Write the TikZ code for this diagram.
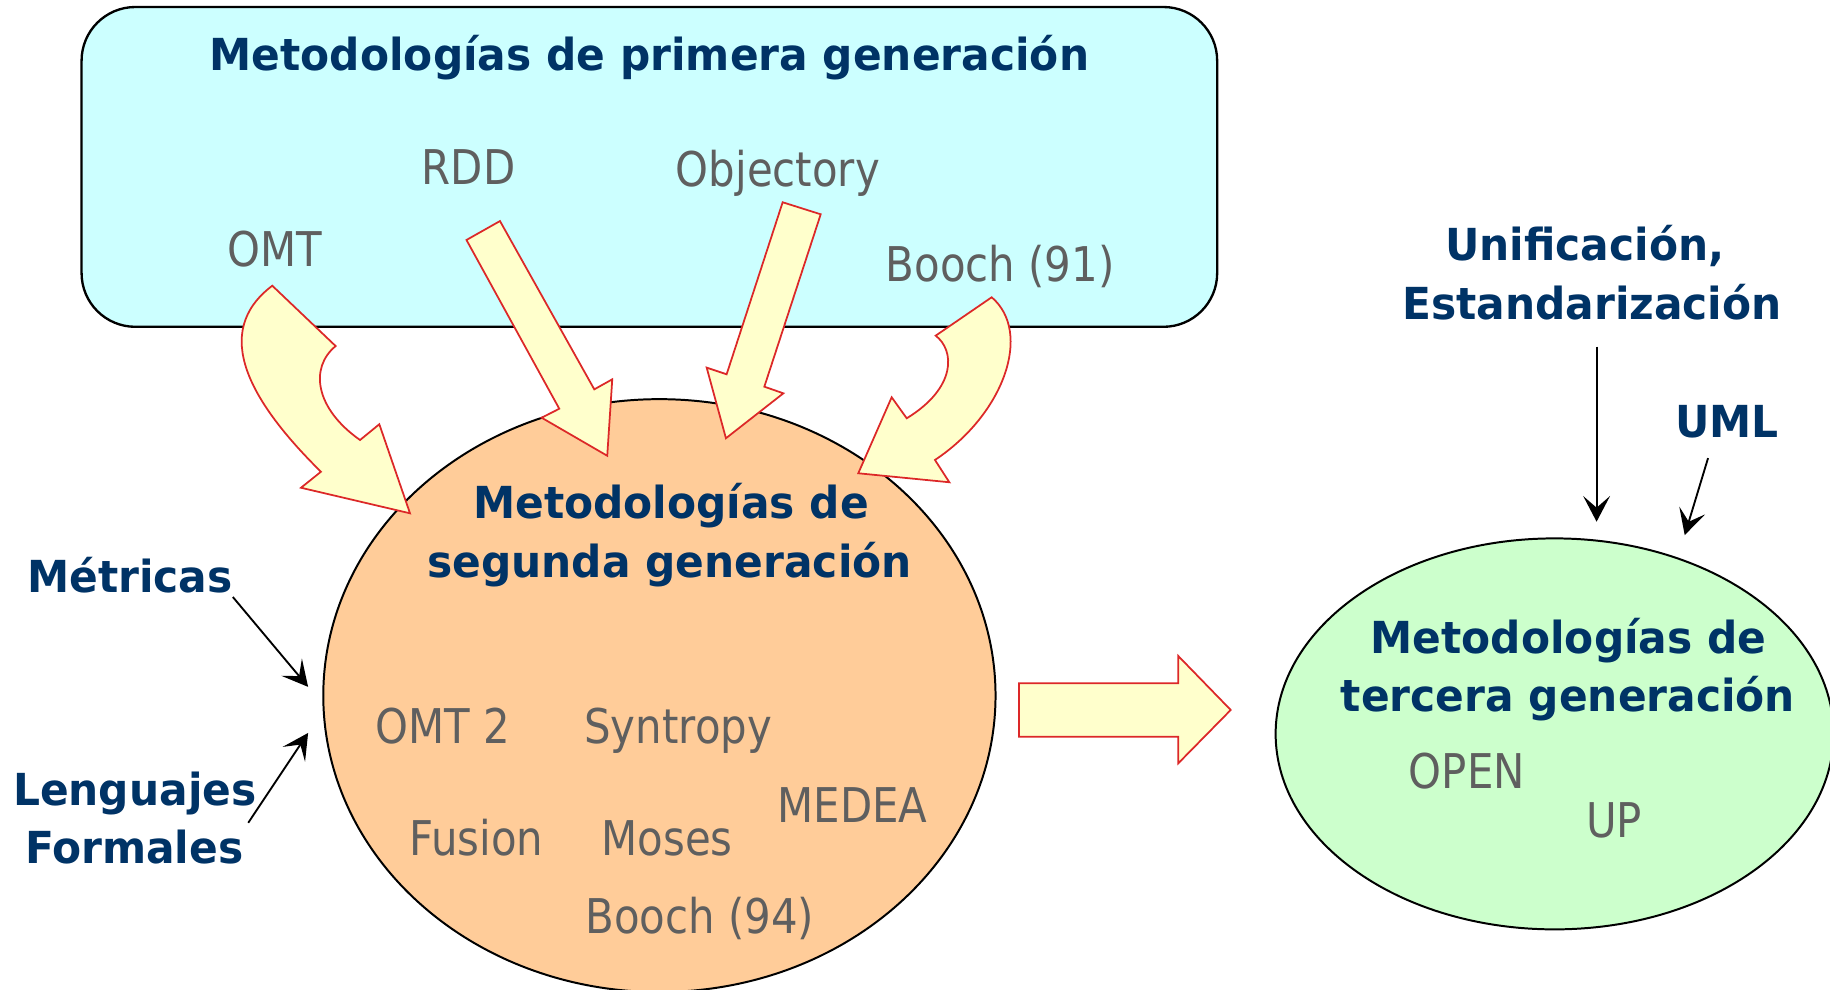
\documentclass[tikz,border=0pt]{standalone}
\usepackage{fontspec}
\usetikzlibrary{shapes.geometric,arrows.meta}
\newfontfamily\rgf[FakeStretch=0.875]{DejaVu Sans}
\newfontfamily\bdf[FakeStretch=0.96]{DejaVu Sans}
\definecolor{navy}{RGB}{0,51,102}
\definecolor{txtgray}{RGB}{95,95,95}
\definecolor{boxcyan}{RGB}{204,255,255}
\definecolor{peach}{RGB}{255,204,153}
\definecolor{mint}{RGB}{204,255,204}
\definecolor{pale}{RGB}{255,255,204}
\definecolor{arrred}{RGB}{220,40,40}
\begin{document}
\begin{tikzpicture}[x=0.5pt,y=-0.5pt,
 boldtxt/.style={inner sep=0pt, anchor=base, text=navy, font=\bdf\bfseries\fontsize{18.9pt}{22pt}\selectfont},
 graytxt/.style={inner sep=0pt, anchor=base west, text=txtgray, font=\rgf\fontsize{20.5pt}{24pt}\selectfont},
 blockarrow/.style={fill=pale, draw=arrred, line width=0.75pt, line join=miter},
 thinarrow/.style={draw=black, line width=0.8pt, -{Stealth[length=11pt,width=11.5pt,inset=5pt]}},
 blob/.style={ellipse, draw=black, line width=0.85pt, inner sep=0pt},
]
\useasboundingbox (0,0) rectangle (1568,848);
\fill[white] (0,0) rectangle (1568,848);
\clip (0,0) rectangle (1568,848);

% containers
\node[draw=black, line width=1pt, fill=boxcyan, rounded corners=23pt,
      minimum width=486.5pt, minimum height=137pt, inner sep=0pt] (box1) at (556.4,143) {};
\node[blob, fill=peach, minimum width=288pt, minimum height=254pt] (seg) at (565,596) {};
\node[blob, fill=mint, minimum width=239pt, minimum height=167.5pt] (ter) at (1332,628.8) {};

% first generation texts
\node[boldtxt] (t1) at (556.5,60) {Metodologías de primera generación};
\node[graytxt] (omt) at (194.5,228) {OMT};
\node[graytxt] (rdd) at (360.9,158.5) {RDD};
\node[graytxt] (obj) at (578.8,159.4) {Objectory};
\node[graytxt] (b91) at (758.6,241) {Booch (91)};

% block arrows
\draw[blockarrow] (233.3,244.8) -- (287.6,296.5) .. controls (265,315) and (270,350) .. (308.5,377)
  -- (325,363.5) -- (351.3,439.8) -- (257.9,417.9) -- (275,404.2)
  .. controls (215,345) and (180,285) .. (233.3,244.8) -- cycle;
\draw[blockarrow] (399.7,205.6) -- (428.4,189.4) -- (509.2,333.6) -- (524.6,325) -- (520.3,390.5)
  -- (464.1,357.9) -- (479.2,350.2) -- cycle;
\draw[blockarrow] (670.6,173.3) -- (703.2,183.6) -- (654.9,331.3) -- (671.2,337) -- (622,375.5)
  -- (605.5,315) -- (622.6,320.7) -- cycle;
\draw[blockarrow] (849.7,254.7) -- (801.7,287.6) .. controls (818,300) and (820,332) .. (776.9,358.4)
  -- (764,340.4) -- (735.4,405.5) -- (813.4,413.2) -- (801.1,394.1)
  .. controls (860,355) and (885,285) .. (849.7,254.7) -- cycle;
\draw[blockarrow] (873.1,585.5) -- (1009.6,585.5) -- (1009.6,562.1) -- (1054.5,608.3)
  -- (1009.6,654) -- (1009.6,631.2) -- (873.1,631.2) -- cycle;

% second generation
\node[boldtxt] (s1) at (575,444.6) {Metodologías de};
\node[boldtxt] (s2) at (573.7,494.6) {segunda generación};
\node[graytxt] (omt2) at (321,637) {OMT 2};
\node[graytxt] (syn) at (500.3,636.9) {Syntropy};
\node[graytxt] (med) at (665.8,705) {MEDEA};
\node[graytxt] (fus) at (350.4,733) {Fusion};
\node[graytxt] (mos) at (515,732.6) {Moses};
\node[graytxt] (b94) at (501.3,800) {Booch (94)};

% third generation
\node[boldtxt] (r1) at (1344,559.8) {Metodologías de};
\node[boldtxt] (r2) at (1343.5,609.8) {tercera generación};
\node[graytxt] (open) at (1206.7,675.5) {OPEN};
\node[graytxt] (up) at (1358.6,717.4) {UP};

% side labels
\node[boldtxt, anchor=base west] (met) at (23,508) {Métricas};
\node[boldtxt] (len) at (115.5,690) {Lenguajes};
\node[boldtxt] (for) at (115,740) {Formales};
\node[boldtxt] (uni) at (1358,223.6) {Unificación,};
\node[boldtxt] (est) at (1364,273.6) {Estandarización};
\node[boldtxt, anchor=base west] (uml) at (1435,374.5) {UML};

% thin arrows
\coordinate (m1) at (199.5,511.5);
\coordinate (m2) at (264,588.5);
\coordinate (l1) at (212.7,705);
\coordinate (l2) at (264,628);
\coordinate (u1) at (1368,297);
\coordinate (u2) at (1368,447);
\coordinate (x1) at (1463.5,392.5);
\coordinate (x2) at (1443.5,458.5);
\draw[thinarrow] (m1) -- (m2);
\draw[thinarrow] (l1) -- (l2);
\draw[thinarrow] (u1) -- (u2);
\draw[thinarrow] (x1) -- (x2);
\end{tikzpicture}
\end{document}
